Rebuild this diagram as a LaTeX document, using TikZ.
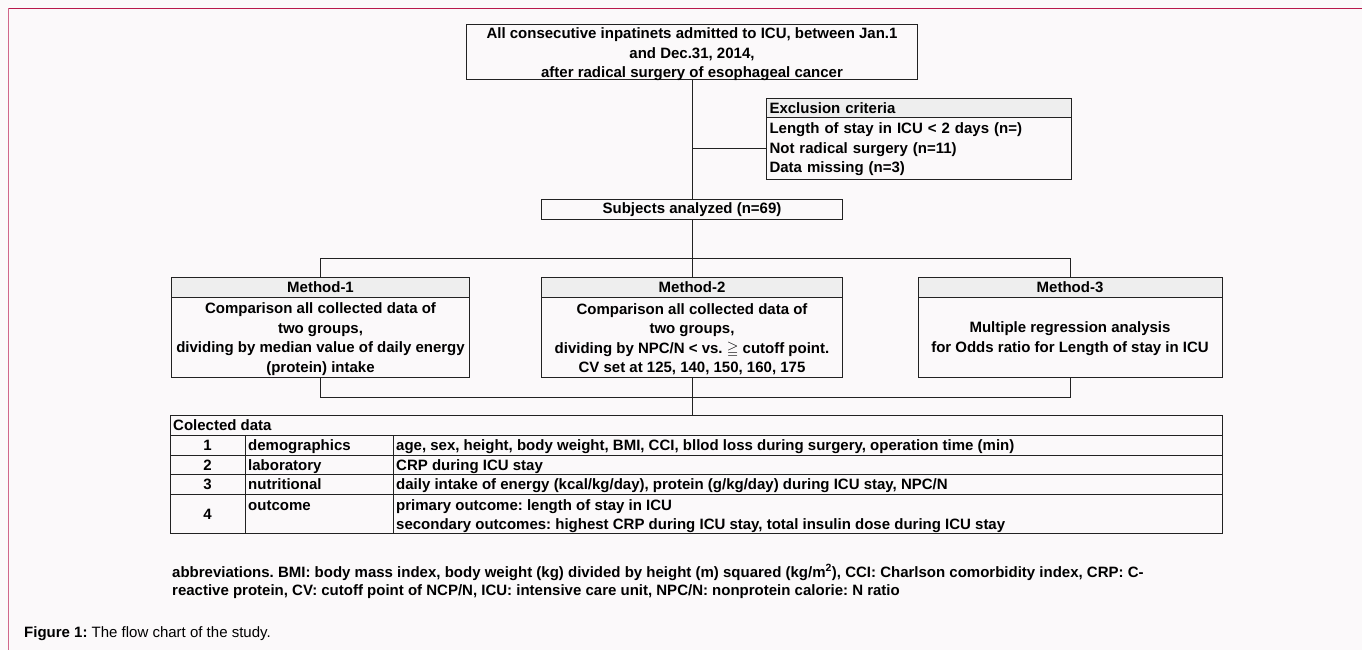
\documentclass[tikz,border=0pt]{standalone}
\usepackage{fontspec}
\setmainfont{Liberation Sans}
\usepackage{amssymb}
\definecolor{bgc}{HTML}{FBF9FA}
\definecolor{framec}{HTML}{B8184C}
\definecolor{framel}{HTML}{D0678A}
\definecolor{hdrc}{HTML}{EEEEEE}
\definecolor{linec}{HTML}{222222}
\newcommand{\fsA}{\fontsize{15}{19.5}\selectfont\bfseries}
\newcommand{\fsR}{\fontsize{15}{19.5}\selectfont}
\newcommand{\upstrut}[1]{\rule{0pt}{#1}}
\frenchspacing
\begin{document}
\frenchspacing
\begin{tikzpicture}[x=1pt,y=-1pt,
  box/.style={draw=linec, line width=1pt, inner sep=0pt, anchor=north west, font=\fsA, align=center},
  hbox/.style={box, fill=hdrc},
  lbox/.style={box, align=left, inner xsep=3pt},
  cell/.style={draw=linec, line width=1pt, inner sep=0pt, anchor=north west},
  txt/.style={inner sep=0pt, font=\fsA},
  conn/.style={draw=linec, line width=1pt}]
\fill[bgc] (0,0) rectangle (1362,650);
\useasboundingbox (0,0) rectangle (1362,650);
\draw[framec, line width=1.6pt] (8.5,8.5) -- (1362,8.5);
\draw[framel, line width=1.4pt] (8.5,8.5) -- (8.5,650);

% top box
\node[box, minimum width=451pt, minimum height=55pt] (top) at (466,24) {};
\node[txt, align=center, yshift=-2.5pt] (toptxt) at (top.center)
  {All consecutive inpatinets admitted to ICU, between Jan.1\\and Dec.31, 2014,\\after radical surgery of esophageal cancer};

% exclusion
\node[lbox, fill=hdrc, minimum width=305pt, minimum height=19pt, text width=299pt] (exh) at (766,98) {Exclusion criteria};
\node[lbox, minimum width=305pt, minimum height=62pt, text width=299pt] (exb) at (766,117)
  {\upstrut{13pt}Length of stay in ICU < 2 days (n=)\\Not radical surgery (n=11)\\Data missing (n=3)};

% subjects
\node[box, minimum width=301pt, minimum height=20pt] (subj) at (541,199) {Subjects analyzed (n=69)};

% methods
\node[hbox, minimum width=298pt, minimum height=20pt] (m1h) at (171,277) {Method-1};
\node[box, minimum width=298pt, minimum height=80pt] (m1b) at (171,297)
  {\upstrut{14pt}Comparison all collected data of\\two groups,\\dividing by median value of daily energy\\(protein) intake};
\node[hbox, minimum width=301pt, minimum height=20pt] (m2h) at (541,277) {Method-2};
\node[box, minimum width=301pt, minimum height=80pt] (m2b) at (541,297)
  {\upstrut{14pt}Comparison all collected data of\\two groups,\\dividing by NPC/N < vs. $\geqq$ cutoff point.\\CV set at 125, 140, 150, 160, 175};
\node[hbox, minimum width=304pt, minimum height=20pt] (m3h) at (917.5,277) {Method-3};
\node[box, minimum width=304pt, minimum height=80pt] (m3b) at (917.5,297)
  {\upstrut{13pt}Multiple regression analysis\\for Odds ratio for Length of stay in ICU};

% table
\node[cell, minimum width=1051.5pt, minimum height=20pt] (tabh) at (170,415) {};
\node[txt, anchor=base west] (tabht) at (173,430.5) {Colected data};
\foreach \r/\y/\h in {1/435/19.5, 2/454.5/19.5, 3/474/19.5, 4/493.5/39.5}{
  \node[cell, minimum width=75pt, minimum height=\h pt] (c1r\r) at (170,\y) {};
  \node[cell, minimum width=148pt, minimum height=\h pt] (c2r\r) at (245,\y) {};
  \node[cell, minimum width=828.5pt, minimum height=\h pt] (c3r\r) at (393,\y) {};
}
\node[txt, anchor=base] (n1) at (207.5,450.8) {1};
\node[txt, anchor=base] (n2) at (207.5,470.3) {2};
\node[txt, anchor=base] (n3) at (207.5,489.8) {3};
\node[txt, anchor=base] (n4) at (207.5,519.3) {4};
\node[txt, anchor=base west] (k1) at (248,450.8) {demographics};
\node[txt, anchor=base west] (k2) at (248,470.3) {laboratory};
\node[txt, anchor=base west] (k3) at (248,489.8) {nutritional};
\node[txt, anchor=base west] (k4) at (248,510) {outcome};
\node[txt, anchor=base west] (v1) at (396,450.8) {age, sex, height, body weight, BMI, CCI, bllod loss during surgery, operation time (min)};
\node[txt, anchor=base west] (v2) at (396,470.3) {CRP during ICU stay};
\node[txt, anchor=base west] (v3) at (396,489.8) {daily intake of energy (kcal/kg/day), protein (g/kg/day) during ICU stay, NPC/N};
\node[txt, anchor=base west] (v4a) at (396,510) {primary outcome: length of stay in ICU};
\node[txt, anchor=base west] (v4b) at (396,529) {secondary outcomes: highest CRP during ICU stay, total insulin dose during ICU stay};

% connectors
\draw[conn] (top.south) -- (subj.north);
\draw[conn] (exb.west -| top.south) -- (exb.west);
\draw[conn] (subj.south) -- (m2h.north);
\draw[conn] (m1h.north) -- ++(0,-19) -| (m3h.north);
\draw[conn] (m1b.south) -- ++(0,19) -| (m3b.south);
\draw[conn] (m2b.south) -- (m2b.south |- tabh.north);

% notes
\node[txt, anchor=base west] (ab1) at (172,577) {abbreviations. BMI: body mass index, body weight (kg) divided by height (m) squared (kg/m\textsuperscript{2}), CCI: Charlson comorbidity index, CRP: C-};
\node[txt, anchor=base west] (ab2) at (172,595) {reactive protein, CV: cutoff point of NCP/N, ICU: intensive care unit, NPC/N: nonprotein calorie: N ratio};
\node[inner sep=0pt, anchor=base west, font=\fsR] (cap) at (24,637) {\textbf{Figure 1:} The flow chart of the study.};
\end{tikzpicture}
\end{document}
